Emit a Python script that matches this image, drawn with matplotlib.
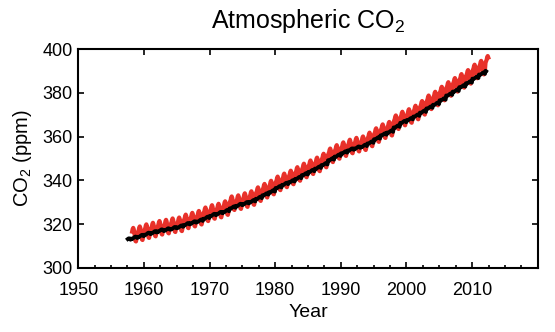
import numpy as np
import matplotlib
matplotlib.use("Agg")
import matplotlib.pyplot as plt
from matplotlib.ticker import MultipleLocator

plt.rcParams['font.family'] = ['Liberation Sans', 'DejaVu Sans']
plt.rcParams['mathtext.default'] = 'regular'

# Mauna Loa (red), annual means 1958-2012, ppm
ml_years = list(range(1958, 2013))
ml_annual = [315.3, 315.97, 316.91, 317.64, 318.45, 318.99, 319.62, 320.04, 321.37, 322.18,
             323.05, 324.62, 325.68, 326.32, 327.45, 329.68, 330.18, 331.11, 332.04, 333.83,
             335.40, 336.84, 338.75, 340.11, 341.45, 343.05, 344.65, 346.12, 347.42, 349.19,
             351.57, 353.12, 354.39, 355.61, 356.45, 357.10, 358.83, 360.82, 362.61, 363.73,
             366.70, 368.38, 369.55, 371.14, 373.28, 375.80, 377.52, 379.80, 381.90, 383.79,
             385.60, 387.43, 389.90, 391.65, 393.85]
# monthly seasonal anomaly, Jan..Dec
ml_season = [0.0, 0.6, 1.3, 2.5, 3.0, 2.3, 0.8, -1.3, -3.0, -3.2, -2.0, -0.9]
ml_first, ml_last = (1958, 3), (2012, 6)

# South Pole (black), annual means 1957-2012, ppm
sp_years = list(range(1957, 2013))
sp_annual = [313.0, 313.8, 314.6, 315.6, 316.3, 317.1, 317.6, 318.2, 318.9, 320.0,
             320.8, 321.6, 322.9, 324.2, 325.1, 326.0, 327.6, 328.8, 329.6, 330.5,
             332.0, 333.6, 335.0, 336.9, 338.4, 339.6, 341.1, 342.8, 344.3, 345.8,
             347.4, 349.6, 351.3, 352.8, 354.1, 355.0, 355.8, 357.3, 359.2, 361.0,
             362.3, 364.6, 366.7, 368.0, 369.6, 371.4, 373.3, 375.0, 377.0, 379.2,
             381.0, 383.0, 384.8, 386.9, 388.8, 390.5]
sp_season = [-0.4, -0.6, -0.6, -0.4, -0.2, 0.0, 0.2, 0.4, 0.5, 0.5, 0.3, -0.1]
sp_first, sp_last = (1957, 7), (2012, 2)


def monthly(years, annual, season, first, last):
    t, v = [], []
    for y, a in zip(years, annual):
        for m in range(1, 13):
            if (y, m) < first or (y, m) > last:
                continue
            t.append(y + (m - 0.5) / 12)
            v.append(a + season[m - 1])
    return np.array(t), np.array(v)


ml_t, ml_v = monthly(ml_years, ml_annual, ml_season, ml_first, ml_last)
sp_t, sp_v = monthly(sp_years, sp_annual, sp_season, sp_first, sp_last)

fig = plt.figure(figsize=(5.55, 3.32), dpi=100)
ax = fig.add_axes([0.141, 0.193, 0.828, 0.659])

ax.plot(ml_t, ml_v, color="#e8312a", lw=3.0, solid_joinstyle="round")
ax.plot(sp_t, sp_v, color="black", lw=2.8, solid_joinstyle="round")

ax.set_xlim(1950, 2020)
ax.set_ylim(300, 400)
ax.xaxis.set_minor_locator(MultipleLocator(2.5))
ax.yaxis.set_major_locator(MultipleLocator(20))
ax.set_xticks([1950, 1960, 1970, 1980, 1990, 2000, 2010])
ax.tick_params(which="major", direction="in", length=4, width=1.2,
               top=True, right=True, labelsize=13)
ax.tick_params(axis="x", which="major", pad=10)
ax.tick_params(axis="y", which="major", pad=4)
ax.tick_params(which="minor", direction="in", length=2, width=1.2,
               top=False, right=False)
for s in ax.spines.values():
    s.set_linewidth(1.5)

ax.set_xlabel("Year", fontsize=14, labelpad=4)
ax.set_ylabel("CO$_2$ (ppm)", fontsize=14.5, labelpad=6)
ax.set_title("Atmospheric CO$_2$", fontsize=18, pad=15)

fig.savefig("out.png", dpi=100)
